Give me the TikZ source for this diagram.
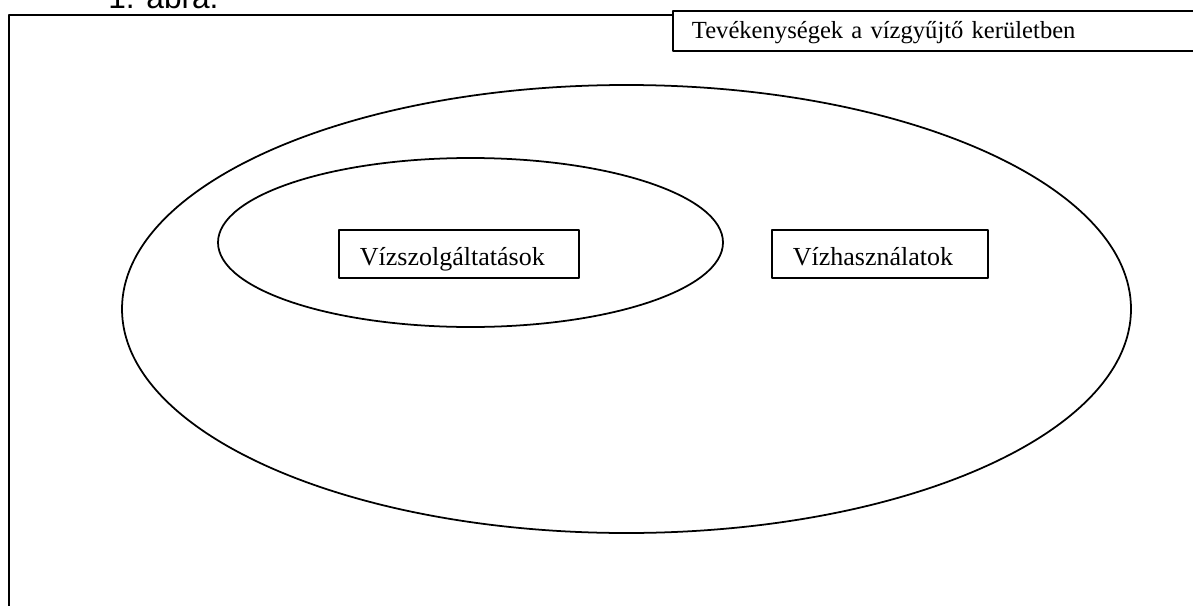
\documentclass[tikz,border=0pt]{standalone}
\usepackage{fontspec}
\setmainfont{Liberation Serif}
\newfontfamily\capfont{Liberation Sans}
\usetikzlibrary{calc}

\begin{document}
\begin{tikzpicture}[line cap=round,line join=round,x=0.02cm,y=-0.02cm,
  frame/.style={line width=1.1pt},
  oval/.style={line width=1pt},
  box/.style={draw,line width=1pt,anchor=north west,align=left,inner xsep=0.42cm,inner ysep=0pt,text height=20.4pt,text depth=6.8pt,font=\fontsize{14.8}{17}\selectfont}]
\useasboundingbox (0,0) rectangle (1193,605);
\clip (0,0) rectangle (1193,605);

% Frame
\coordinate (F1) at (672,15);
\coordinate (F2) at (9,15);
\coordinate (F3) at (9,620);
\draw [frame] (F1) -- (F2) -- (F3);

% Caption (cut at the top)
\node [anchor=base west, inner sep=0pt, font=\capfont\fontsize{18}{20}\selectfont] (cap) at (108,9) {1. ábra.};

% Title box
\node [draw, frame, anchor=north west, align=left, inner xsep=0.38cm, inner ysep=0pt,
  text width=9.8cm, text height=15.9pt, text depth=6.8pt, font=\fontsize{14}{16}\selectfont] (title) at (672,10)
  {Tevékenységek a vízgyűjtő kerületben};

% Ellipses
\draw [oval] (626.5,309) ellipse [x radius=504.5, y radius=224];
\draw [oval] (470.5,242.5) ellipse [x radius=252.5, y radius=84.5];

% Boxes
\node [box, text width=3.96cm] (szolg) at (338,229) {Vízszolgáltatások};
\node [box, text width=3.48cm] (haszn) at (771,229) {Vízhasználatok};
\end{tikzpicture}
\end{document}
